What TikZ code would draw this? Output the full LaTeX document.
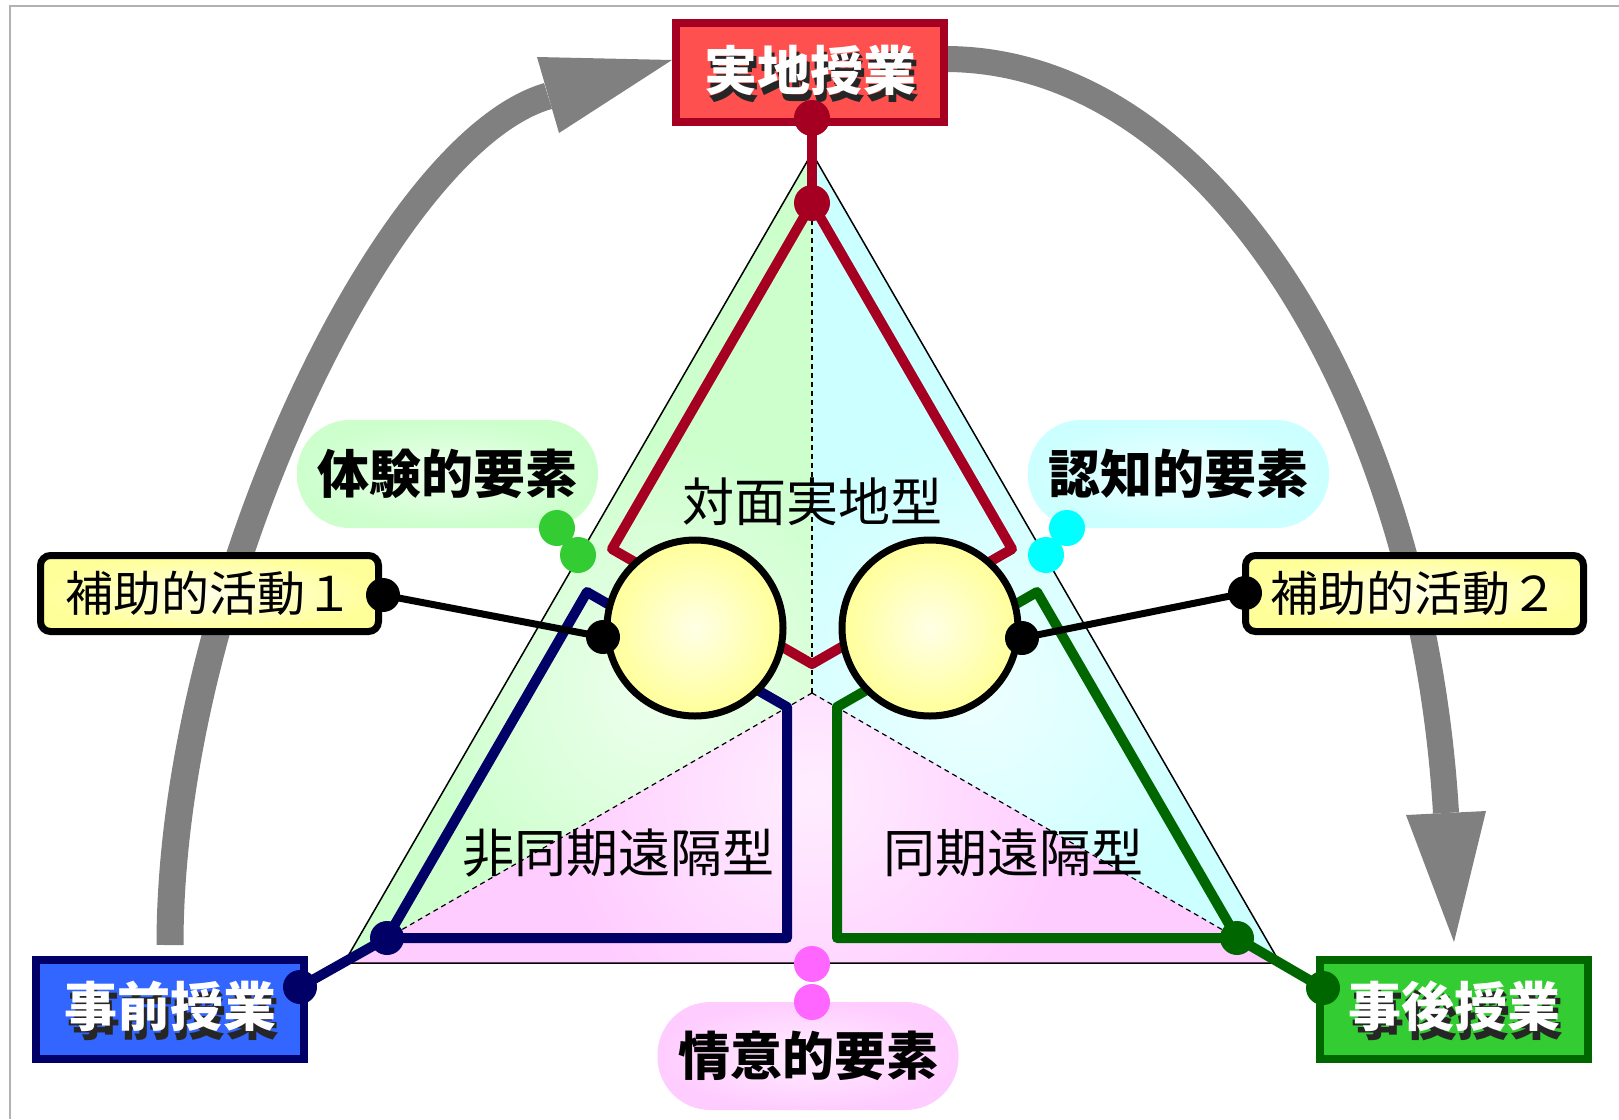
\documentclass[tikz,border=0pt]{standalone}
\usepackage{fontspec}
\newfontfamily\jp{Noto Sans CJK JP}
\usetikzlibrary{calc}
\definecolor{kred}{HTML}{A50021}
\definecolor{boxred}{HTML}{FF5050}
\definecolor{knavy}{HTML}{000066}
\definecolor{boxblue}{HTML}{3366FF}
\definecolor{kgreen}{HTML}{006600}
\definecolor{boxgreen}{HTML}{33CC33}
\definecolor{regG}{HTML}{CCFFCC}
\definecolor{regGl}{HTML}{EEFFEE}
\definecolor{regC}{HTML}{CCFFFF}
\definecolor{regCl}{HTML}{EEFFFF}
\definecolor{regP}{HTML}{FFCCFF}
\definecolor{regPl}{HTML}{FFEEFF}
\definecolor{dotG}{HTML}{33CC33}
\definecolor{dotC}{HTML}{00FFFF}
\definecolor{dotP}{HTML}{FF66FF}
\definecolor{agray}{HTML}{808080}
\definecolor{yel}{HTML}{FFFF99}
\definecolor{yelL}{HTML}{FFFFE6}
\tikzset{
  kite/.style={line width=10pt, line join=round},
  mainbox/.style={rectangle, minimum width=269pt, minimum height=100pt, inner sep=0pt, line width=7pt},
  subbox/.style={rectangle, rounded corners=10pt, minimum width=338pt, minimum height=76pt, inner sep=0pt, line width=7pt, draw=black, inner color=yelL, outer color=yel, font=\jp\fontsize{48}{56}\selectfont},
  pill/.style={rectangle, rounded corners=53pt, minimum width=301pt, minimum height=108pt, inner sep=0pt, font=\jp\bfseries\fontsize{52}{60}\selectfont},
  boxtext/.style={font=\jp\bfseries\fontsize{53}{60}\selectfont},
  regtext/.style={font=\jp\fontsize{52}{60}\selectfont},
  dashline/.style={line width=1.2pt, dash pattern=on 5pt off 4pt},
  bigarrow/.style={agray},
}
\begin{document}
\begin{tikzpicture}[x=1pt,y=-1pt]
\useasboundingbox (0,0) rectangle (1619,1119);
\fill[white] (0,0) rectangle (1619,1119);
\draw[gray!60, line width=2pt] (10,1119) -- (10,6) -- (1619,6);

% gray arrows
\draw[bigarrow, line width=27pt] (170,945) .. controls (170,595) and (385,143) .. (548,96);
\fill[bigarrow] (537,57) -- (672,60) -- (559,133) -- cycle;
\draw[bigarrow, line width=26pt] (945,59) .. controls (1215,59) and (1422,410) .. (1446,813);
\fill[bigarrow] (1406,815) -- (1454,942) -- (1486,811) -- cycle;

% triangle
\coordinate (A) at (812,153);
\coordinate (B) at (344,963);
\coordinate (C) at (1280,963);
\coordinate (G) at (812,693);
\begin{scope}
  \clip (A) -- (G) -- (B) -- cycle;
  \fill[regG] (A) -- (G) -- (B) -- cycle;
  \shade[inner color=regGl, outer color=regG] (660,690) circle (250pt);
\end{scope}
\begin{scope}
  \clip (A) -- (G) -- (C) -- cycle;
  \fill[regC] (A) -- (G) -- (C) -- cycle;
  \shade[inner color=regCl, outer color=regC] (975,690) circle (250pt);
\end{scope}
\begin{scope}
  \clip (B) -- (G) -- (C) -- cycle;
  \fill[regP] (B) -- (G) -- (C) -- cycle;
  \shade[inner color=regPl, outer color=regP] (812,790) circle (260pt);
\end{scope}
\draw[line width=1.5pt] (A) -- (B) -- (C) -- cycle;
\draw[dashline] (G) -- (A);
\draw[dashline] (G) -- (B);
\draw[dashline] (G) -- (C);

% region texts
\node[regtext] (tTop) at (812,502) {対面実地型};
\node[regtext] (tLeft) at (618,853) {非同期遠隔型};
\node[regtext] (tRight) at (1013,853) {同期遠隔型};

% element pills
\node[pill, inner color=regGl, outer color=regG] (pG) at (447.5,474) {体験的要素};
\node[pill, inner color=regCl, outer color=regC] (pC) at (1178.5,474) {認知的要素};
\node[pill, inner color=regPl, outer color=regP] (pP) at (808,1056) {情意的要素};
\coordinate (dG1) at (557,528);
\coordinate (dG2) at (578,555);
\coordinate (dC1) at (1067,528);
\coordinate (dC2) at (1046,555);
\coordinate (dP1) at (812,964);
\coordinate (dP2) at (812,1002);
\fill[dotG] (dG1) circle (18pt) (dG2) circle (18pt);
\fill[dotC] (dC1) circle (18pt) (dC2) circle (18pt);
\fill[dotP] (dP1) circle (18pt) (dP2) circle (18pt);

% kites
\coordinate (Ar) at (812,203);
\coordinate (Lr) at (612,549);
\coordinate (Gr) at (812,664);
\coordinate (Rr) at (1012,549);
\coordinate (Bb) at (387,938);
\coordinate (Tb) at (587,592);
\coordinate (Gb) at (787,707);
\coordinate (Mb) at (787,938);
\coordinate (Cg) at (1237,938);
\coordinate (Tg) at (1037,592);
\coordinate (Gg) at (837,707);
\coordinate (Mg) at (837,938);
\draw[kite, kred] (Ar) -- (Lr) -- (Gr) -- (Rr) -- cycle;
\draw[kite, knavy] (Bb) -- (Tb) -- (Gb) -- (Mb) -- cycle;
\draw[kite, kgreen] (Cg) -- (Tg) -- (Gg) -- (Mg) -- cycle;

% main boxes
\node[mainbox, fill=boxred, draw=kred] (top) at (810,72) {};
\node[mainbox, fill=boxblue, draw=knavy] (pre) at (170,1009.5) {};
\node[mainbox, fill=boxgreen, draw=kgreen] (post) at (1454,1009.5) {};
\draw[kred, line width=2pt] ([shift={(7,7)}]top.north west) rectangle ([shift={(-7,-7)}]top.south east);
\draw[knavy, line width=2pt] ([shift={(7,7)}]pre.north west) rectangle ([shift={(-7,-7)}]pre.south east);
\draw[kgreen, line width=2pt] ([shift={(7,7)}]post.north west) rectangle ([shift={(-7,-7)}]post.south east);
\node[boxtext, text=black!85] at ([shift={(3,5)}]top.center) {実地授業};
\node[boxtext, text=white] (topT) at ([yshift=2]top.center) {実地授業};
\node[boxtext, text=black!85] at ([shift={(3,6)}]pre.center) {事前授業};
\node[boxtext, text=white] (preT) at ([yshift=3]pre.center) {事前授業};
\node[boxtext, text=black!85] at ([shift={(3,6)}]post.center) {事後授業};
\node[boxtext, text=white] (postT) at ([yshift=3]post.center) {事後授業};

% connectors from kites to boxes
\coordinate (dTop) at (812,118);
\coordinate (dPre) at (300,987);
\coordinate (dPost) at (1323,988);
\draw[kite, kred] (dTop) -- (Ar);
\draw[kite, knavy] (Bb) -- (dPre);
\draw[kite, kgreen] (Cg) -- (dPost);
\fill[kred] (dTop) circle (18pt) (Ar) circle (18pt);
\fill[knavy] (Bb) circle (17pt) (dPre) circle (17pt);
\fill[kgreen] (Cg) circle (17pt) (dPost) circle (17pt);

% circles
\node[circle, minimum size=176pt, inner sep=0pt, draw=black, line width=7pt, inner color=yelL, outer color=yel] (cL) at (695,628) {};
\node[circle, minimum size=176pt, inner sep=0pt, draw=black, line width=7pt, inner color=yelL, outer color=yel] (cR) at (930,628) {};

% sub activity boxes
\node[subbox] (s1) at (209.5,593.5) {補助的活動１};
\node[subbox] (s2) at (1414.5,593.5) {補助的活動２};
\coordinate (cLd) at (603,637);
\coordinate (cRd) at (1022,638);
\coordinate (s1d) at (383,595);
\coordinate (s2d) at (1245,593);
\draw[line width=7pt] (cLd) -- (s1d);
\draw[line width=7pt] (cRd) -- (s2d);
\fill[black] (cLd) circle (17pt) (cRd) circle (17pt) (s1d) circle (17pt) (s2d) circle (17pt);
\end{tikzpicture}
\end{document}
